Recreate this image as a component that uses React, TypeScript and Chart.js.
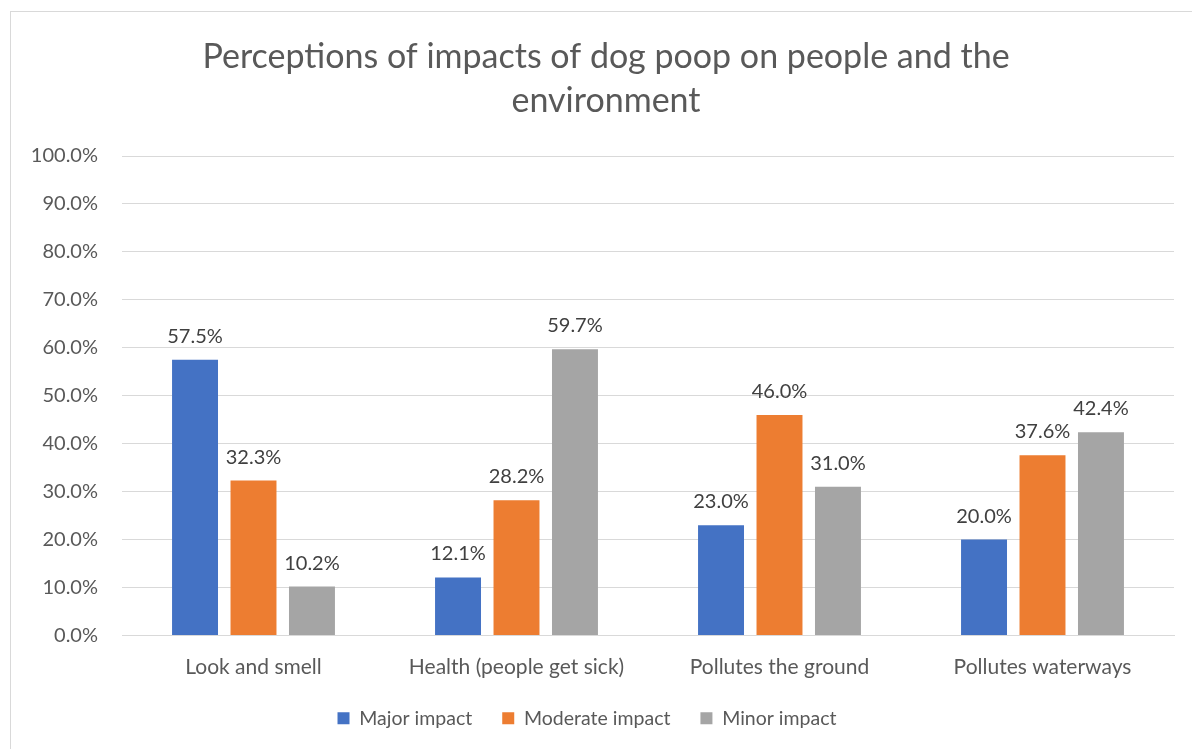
import React, { useEffect, useRef } from "react";
import { Chart, registerables } from "chart.js";

Chart.register(...registerables);

const categories = ["Look and smell", "Health (people get sick)", "Pollutes the ground", "Pollutes waterways"];
const majorImpact = [57.5, 12.1, 23.0, 20.0];
const moderateImpact = [32.3, 28.2, 46.0, 37.6];
const minorImpact = [10.2, 59.7, 31.0, 42.4];
const seriesNames = ["Major impact", "Moderate impact", "Minor impact"];
const titleLines = ["Perceptions of impacts of dog poop on people and the", "environment"];

const FONT = "Lato, 'Open Sans', sans-serif";
const TEXT = "#595959";

const framePlugin = {
  id: "frame",
  beforeDraw(chart: any) {
    const ctx = chart.ctx;
    ctx.save();
    ctx.fillStyle = "#ffffff";
    ctx.fillRect(0, 0, chart.width, chart.height);
    ctx.strokeStyle = "#d9d9d9";
    ctx.lineWidth = 1;
    ctx.strokeRect(10.5, 11.5, 1300, 900);
    ctx.restore();
  },
};

const titlePlugin = {
  id: "customTitle",
  afterDraw(chart: any) {
    const ctx = chart.ctx;
    ctx.save();
    ctx.fillStyle = TEXT;
    ctx.font = `34px ${FONT}`;
    ctx.textAlign = "center";
    ctx.textBaseline = "middle";
    ctx.fillText(titleLines[0], 606, 57);
    ctx.fillText(titleLines[1], 606, 101);
    ctx.restore();
  },
};

const labelPlugin = {
  id: "valueLabels",
  afterDatasetsDraw(chart: any) {
    const ctx = chart.ctx;
    ctx.save();
    ctx.fillStyle = "#404040";
    ctx.font = `20px ${FONT}`;
    ctx.textAlign = "center";
    ctx.textBaseline = "alphabetic";
    chart.data.datasets.forEach((ds: any, i: number) => {
      const meta = chart.getDatasetMeta(i);
      meta.data.forEach((bar: any, j: number) => {
        ctx.fillText(Number(ds.data[j]).toFixed(1) + "%", bar.x, bar.y - 17);
      });
    });
    ctx.restore();
  },
};

export default function App() {
  const ref = useRef<HTMLCanvasElement>(null);
  useEffect(() => {
    document.body.style.margin = "0";
    const chart = new Chart(ref.current!, {
      type: "bar",
      data: {
        labels: categories,
        datasets: [
          { label: seriesNames[0], data: majorImpact, backgroundColor: "#4472C4" },
          { label: seriesNames[1], data: moderateImpact, backgroundColor: "#ED7D31" },
          { label: seriesNames[2], data: minorImpact, backgroundColor: "#A5A5A5" },
        ],
      },
      options: {
        responsive: false,
        animation: false,
        layout: { padding: { top: 156, left: 0, right: 18, bottom: 11 } },
        datasets: { bar: { categoryPercentage: 0.667, barPercentage: 0.786 } },
        plugins: {
          title: { display: false },
          tooltip: { enabled: false },
          legend: {
            position: "bottom",
            labels: {
              boxWidth: 12,
              boxHeight: 12,
              padding: 30,
              color: TEXT,
              font: { family: FONT, size: 19.5 },
            },
          },
        },
        scales: {
          x: {
            grid: { display: false, drawTicks: false },
            border: { display: true, color: "#d9d9d9", width: 1 },
            ticks: { color: TEXT, font: { family: FONT, size: 21 }, padding: 19 },
            afterFit(scale: any) {
              scale.height = 43;
            },
          },
          y: {
            min: 0,
            max: 100,
            ticks: {
              stepSize: 10,
              color: TEXT,
              font: { family: FONT, size: 20 },
              padding: 24,
              callback: (v: any) => Number(v).toFixed(1) + "%",
            },
            grid: { color: "#d9d9d9", drawTicks: false },
            border: { display: false },
            afterFit(scale: any) {
              scale.width = 122;
            },
          },
        },
      },
      plugins: [framePlugin, titlePlugin, labelPlugin],
    });
    return () => chart.destroy();
  }, []);
  return (
    <div style={{ width: 1192, height: 749 }}>
      <canvas ref={ref} width={1192} height={749} style={{ display: "block" }} />
    </div>
  );
}
